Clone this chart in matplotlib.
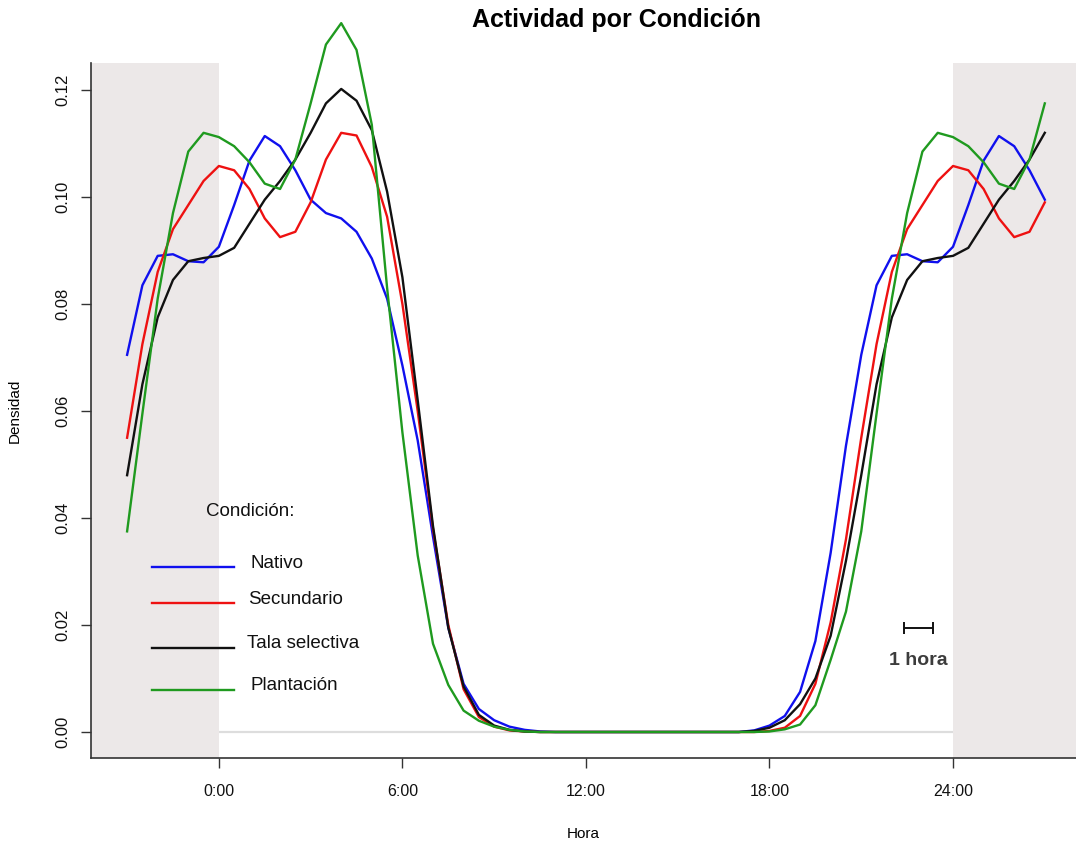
import numpy as np
import matplotlib
matplotlib.use("Agg")
import matplotlib.pyplot as plt
from matplotlib.lines import Line2D

plt.rcParams['font.family'] = ['Liberation Sans', 'DejaVu Sans']

# densidad leida cada media hora, de 0:00 a 24:00
horas_base = np.arange(0, 24.5, 0.5)

nativo = [0.0907, 0.0985, 0.1068, 0.1114, 0.1095, 0.1050, 0.0995, 0.0970,
          0.0960, 0.0935, 0.0885, 0.0810, 0.0685, 0.0545, 0.0365, 0.0195,
          0.0090, 0.0043, 0.0022, 0.0010, 0.0004, 0.0001, 0.0, 0.0,
          0.0, 0.0, 0.0, 0.0, 0.0, 0.0, 0.0, 0.0,
          0.0, 0.0, 0.0, 0.0003, 0.0012, 0.0030, 0.0075, 0.0170,
          0.0335, 0.0535, 0.0705, 0.0835, 0.0890, 0.0893, 0.0880, 0.0878,
          0.0907]
secundario = [0.1058, 0.1050, 0.1015, 0.0960, 0.0925, 0.0935, 0.0990, 0.1070,
              0.1120, 0.1115, 0.1056, 0.0963, 0.0800, 0.0600, 0.0380, 0.0200,
              0.0080, 0.0028, 0.0010, 0.0003, 0.0001, 0.0, 0.0, 0.0,
              0.0, 0.0, 0.0, 0.0, 0.0, 0.0, 0.0, 0.0,
              0.0, 0.0, 0.0, 0.0, 0.0002, 0.0008, 0.0030, 0.0090,
              0.0205, 0.0360, 0.0550, 0.0725, 0.0860, 0.0940, 0.0985, 0.1030,
              0.1058]
tala = [0.0890, 0.0905, 0.0950, 0.0995, 0.1030, 0.1070, 0.1120, 0.1175,
        0.1202, 0.1180, 0.1125, 0.1010, 0.0850, 0.0620, 0.0385, 0.0195,
        0.0085, 0.0032, 0.0012, 0.0004, 0.0001, 0.0, 0.0, 0.0,
        0.0, 0.0, 0.0, 0.0, 0.0, 0.0, 0.0, 0.0,
        0.0, 0.0, 0.0, 0.0002, 0.0008, 0.0022, 0.0052, 0.0100,
        0.0180, 0.0320, 0.0480, 0.0650, 0.0775, 0.0845, 0.0880, 0.0886,
        0.0890]
plantacion = [0.1112, 0.1095, 0.1065, 0.1025, 0.1015, 0.1070, 0.1175, 0.1285,
              0.1325, 0.1275, 0.1135, 0.0830, 0.0560, 0.0330, 0.0165, 0.0088,
              0.0040, 0.0021, 0.0010, 0.0004, 0.0001, 0.0, 0.0, 0.0,
              0.0, 0.0, 0.0, 0.0, 0.0, 0.0, 0.0, 0.0,
              0.0, 0.0, 0.0, 0.0, 0.0001, 0.0005, 0.0014, 0.0050,
              0.0135, 0.0225, 0.0375, 0.0595, 0.0810, 0.0970, 0.1085, 0.1120,
              0.1112]

series = [("Nativo", nativo, "#1010ee"),
          ("Secundario", secundario, "#ee1111"),
          ("Tala selectiva", tala, "#111111"),
          ("Plantación", plantacion, "#1f9a1f")]

tick_pos = [0, 6, 12, 18, 24]
tick_lab = ["0:00", "6:00", "12:00", "18:00", "24:00"]


def extend(vals):
    # el grafico repite 3 horas a cada lado (circular)
    v = list(vals)
    return v[42:48] + v + v[1:7]


horas = np.concatenate([horas_base[42:48] - 24, horas_base, horas_base[1:7] + 24])

fig = plt.figure(figsize=(10.76, 8.43), dpi=100)
ax = fig.add_axes([91 / 1076, 85 / 843, 1 - 91 / 1076, 695 / 843])
ax.set_xlim(-4.18, 28.02)
ax.set_ylim(-0.00486, 0.12505)

shade = "#ece8e8"
ax.axvspan(-4.18, 0, color=shade, lw=0, zorder=0)
ax.axvspan(24, 28.02, color=shade, lw=0, zorder=0)
ax.hlines(0, 0, 24, color="#dddddd", lw=1.6, zorder=1)

for name, vals, col in series:
    ax.plot(horas, extend(vals), color=col, lw=1.7, clip_on=False, zorder=3,
            solid_joinstyle="round")

for s in ["top", "right"]:
    ax.spines[s].set_visible(False)
for s in ["left", "bottom"]:
    ax.spines[s].set_color("#333333")
    ax.spines[s].set_linewidth(1.2)

ax.set_xticks(tick_pos)
ax.set_xticklabels(tick_lab, fontsize=11.5, color="#111111")
ax.set_yticks(np.arange(0, 0.121, 0.02))
ax.set_yticklabels(["%.2f" % v for v in np.arange(0, 0.121, 0.02)],
                   rotation=90, va="center", fontsize=12, color="#111111")
ax.tick_params(axis="x", length=7, width=1, color="#333333", pad=12)
ax.tick_params(axis="y", length=7, width=1, color="#333333", pad=8)

ax.set_xlabel("Hora", fontsize=11, labelpad=20)
ax.set_ylabel("Densidad", fontsize=11, labelpad=24)
fig.text(616 / 1076, 1 - 20 / 843, "Actividad por Condición", ha="center",
         va="center", fontsize=18, fontweight="bold")

# escala de 1 hora
ax.errorbar([22.87], [0.0194], xerr=[[0.48], [0.48]], color="#111111",
            capsize=4, elinewidth=1.4, capthick=1.4, fmt="none")
ax.text(22.88, 0.0133, "1 hora", ha="center", va="center", fontsize=14,
        fontweight="bold", color="#3c3c3c")

# leyenda
fig.text(250 / 1076, 1 - 512 / 843, "Condición:", ha="center", va="center",
         fontsize=13.5, color="#111111")
leg_y = [567, 603, 648, 690]
txt_x = [251, 248, 247, 250]
for (name, vals, col), y, tx in zip(series, leg_y, txt_x):
    fig.add_artist(Line2D([152 / 1076, 234 / 1076], [1 - y / 843, 1 - y / 843],
                          color=col, lw=1.7))
    fig.text(tx / 1076, 1 - (y - 4) / 843, name, ha="left", va="center",
             fontsize=13.5, color="#111111")

fig.savefig("out.png", dpi=100)
